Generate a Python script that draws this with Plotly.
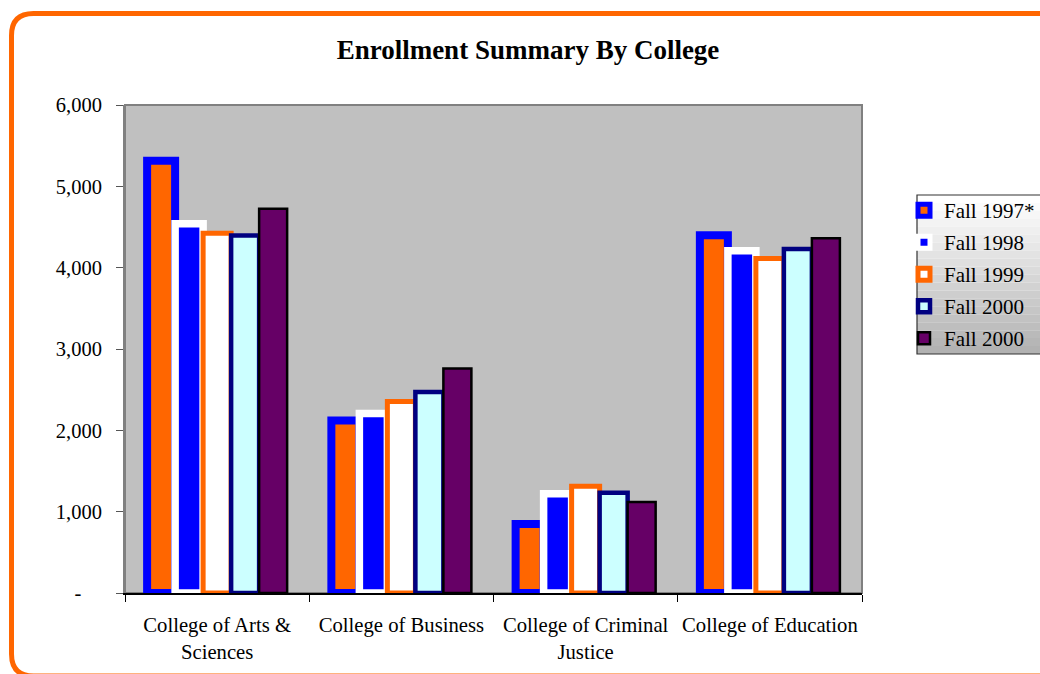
import plotly.graph_objects as go

categories = ["College of Arts &<br>Sciences", "College of Business",
              "College of Criminal<br>Justice", "College of Education"]
series_names = ["Fall 1997*", "Fall 1998", "Fall 1999", "Fall 2000", "Fall 2000"]
fall_1997 = [5314, 2122, 849, 4400]
fall_1998 = [4539, 2208, 1221, 4209]
fall_1999 = [4422, 2355, 1312, 4114]
fall_2000 = [4397, 2472, 1232, 4229]
fall_2000b = [4723, 2759, 1119, 4363]
series_values = [fall_1997, fall_1998, fall_1999, fall_2000, fall_2000b]

y_tickvals = [0, 1000, 2000, 3000, 4000, 5000, 6000]
y_ticktext = ["-\u00a0\u00a0\u00a0\u00a0", "1,000", "2,000", "3,000", "4,000", "5,000", "6,000"]

fills = ["#FF6600", "#0000FF", "#FFFFFF", "#CCFFFF", "#660066"]
borders = ["#0000FF", "#FFFFFF", "#FF6600", "#000080", "#000000"]
border_w = [8, 7.5, 5, 4.5, 2.5]

FONT = "Liberation Serif, Times New Roman, serif"

# plot area in pixels
L, R, T, B = 125, 862, 105, 593
W, H = R - L, B - T


def px(x):
    return (x - L) / W


def py(y):
    return (B - y) / H


fig = go.Figure()
for i, (name, vals) in enumerate(zip(series_names, series_values)):
    fig.add_trace(go.Bar(
        x=categories, y=vals, name=name, legendgroup=f"g{i}",
        marker=dict(color=fills[i], line=dict(color=borders[i], width=border_w[i])),
    ))

shapes = []
# plot area border
shapes.append(dict(type="rect", xref="paper", yref="paper", x0=0, x1=1, y0=0, y1=1,
                   line=dict(color="#808080", width=2), layer="below"))
# orange rounded frame
fl, ft, fr, fb, r = 11.5, 13.5, 1080, 676, 22
path = (f"M {px(fl)},{py(ft + r)} Q {px(fl)},{py(ft)} {px(fl + r)},{py(ft)} "
        f"L {px(fr - r)},{py(ft)} Q {px(fr)},{py(ft)} {px(fr)},{py(ft + r)} "
        f"L {px(fr)},{py(fb - r)} Q {px(fr)},{py(fb)} {px(fr - r)},{py(fb)} "
        f"L {px(fl + r)},{py(fb)} Q {px(fl)},{py(fb)} {px(fl)},{py(fb - r)} Z")
shapes.append(dict(type="path", xref="paper", yref="paper", path=path,
                   line=dict(color="#FF6600", width=5)))
# legend gradient background
lg_l, lg_r, lg_t, lg_b = 917, 1060, 195, 354
n = 20
for k in range(n):
    t = k / (n - 1)
    g = int(round(255 - (255 - 178) * t))
    y0 = lg_t + (lg_b - lg_t) * k / n
    y1 = lg_t + (lg_b - lg_t) * (k + 1) / n
    shapes.append(dict(type="rect", xref="paper", yref="paper",
                       x0=px(lg_l), x1=px(lg_r), y0=py(y1), y1=py(y0),
                       fillcolor=f"rgb({g},{g},{g})", line=dict(width=0)))
shapes.append(dict(type="rect", xref="paper", yref="paper",
                   x0=px(lg_l), x1=px(lg_r), y0=py(lg_b), y1=py(lg_t),
                   line=dict(color="#333333", width=1.2)))

fig.update_layout(
    width=1040, height=674,
    margin=dict(l=L, r=1040 - R, t=T, b=674 - B, autoexpand=False),
    paper_bgcolor="white", plot_bgcolor="#C0C0C0",
    barmode="group", bargap=0.24, bargroupgap=0,
    font=dict(family=FONT, size=20, color="black"),
    title=dict(text="<b>Enrollment Summary By College</b>", x=px(528), xref="paper",
               xanchor="center", y=1 - 50 / 674, yanchor="middle",
               font=dict(family=FONT, size=27, color="black")),
    xaxis=dict(tickson="boundaries", ticks="outside", ticklen=7, tickcolor="black",
               showline=True, linecolor="black", linewidth=1.5, showgrid=False,
               tickangle=0, automargin=False,
               tickfont=dict(family=FONT, size=20.7, color="black"), ticklabelstandoff=12),
    yaxis=dict(range=[0, 6000], tickvals=y_tickvals, ticktext=y_ticktext,
               ticks="outside", ticklen=7, tickcolor="#555555", showgrid=False,
               showline=True, linecolor="#808080", linewidth=2, zeroline=False,
               automargin=False,
               tickfont=dict(family=FONT, size=20.5, color="black"), ticklabelstandoff=10),
    legend=dict(x=px(904), xanchor="left", y=py(190), yanchor="top",
                bgcolor="rgba(0,0,0,0)", borderwidth=0, tracegroupgap=1.7,
                itemwidth=30, font=dict(family=FONT, size=21, color="black")),
    shapes=shapes,
)

fig.write_html("out.html", config={"displayModeBar": False},
               post_script="document.body.style.margin='0';")
